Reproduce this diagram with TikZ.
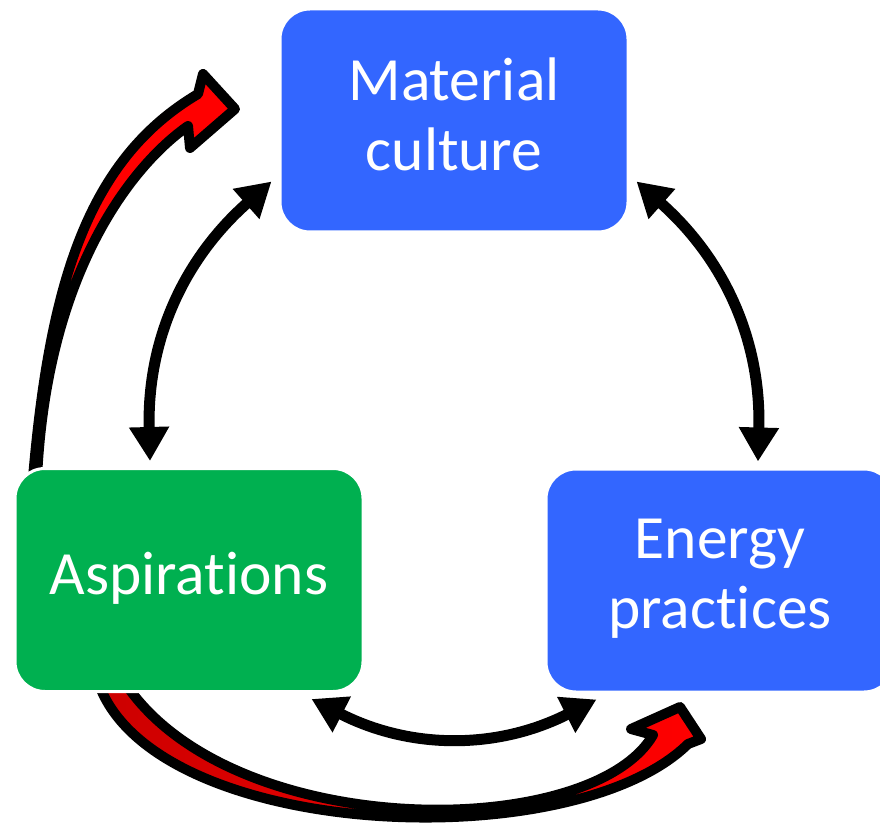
\documentclass[tikz,border=0pt]{standalone}
\usepackage{fontspec}
\setmainfont{Carlito}[Ligatures=NoCommon]
\usetikzlibrary{arrows.meta}
\definecolor{boxblue}{HTML}{3366FF}
\definecolor{boxgreen}{HTML}{00B050}

\tikzset{
	box/.style = {rectangle, rounded corners=30pt, draw=white, line width=3pt, minimum width=348pt, minimum height=223pt, text=white, align=center, text depth=13pt, font=\fontsize{61.5}{70}\selectfont},
	link/.style = {{Triangle[length=34pt,width=38pt]}-{Triangle[length=34pt,width=38pt]}, line width=11pt},
	bigarrow/.style = {draw=black, line width=10pt, line join=round}
}

\begin{document}
\begin{tikzpicture}[x=1pt, y=1pt]
	\useasboundingbox (0,0) rectangle (880,828);
	
	% red arrows, behind the boxes
	\draw[bigarrow, fill=red] (33,350) .. controls (50,550) and (90,670) .. (198,734) -- (203,754) -- (235,719) -- (190,680) -- (188,702) .. controls (135,665) and (47,560) .. (37,350) -- cycle;
	\draw[bigarrow, left color=red!80!black, right color=red] (96,153) .. controls (140,-12) and (570,-32) .. (688,84) -- (701,89) -- (680,121) -- (631,99) -- (653,93) .. controls (590,-15) and (220,-15) .. (120,153) -- cycle;
	
	\node[box, fill=boxblue] (mat) at (454,707.5) {Material\\culture};
	\node[box, fill=boxgreen] (asp) at (189,248) {Aspirations};
	\node[box, fill=boxblue] (ene) at (720,247.5) {Energy\\practices};
	
	\draw[link] ([shift={(-7,52)}]mat.south west) to[bend right=25] ([shift={(-39,6)}]asp.north);
	\draw[link] ([shift={(7,52)}]mat.south east) to[bend left=25] ([shift={(38,6)}]ene.north);
	\draw[link] ([shift={(-53,-6)}]asp.south east) to[bend right=27] ([shift={(52,-6)}]ene.south west);
\end{tikzpicture}
\end{document}
